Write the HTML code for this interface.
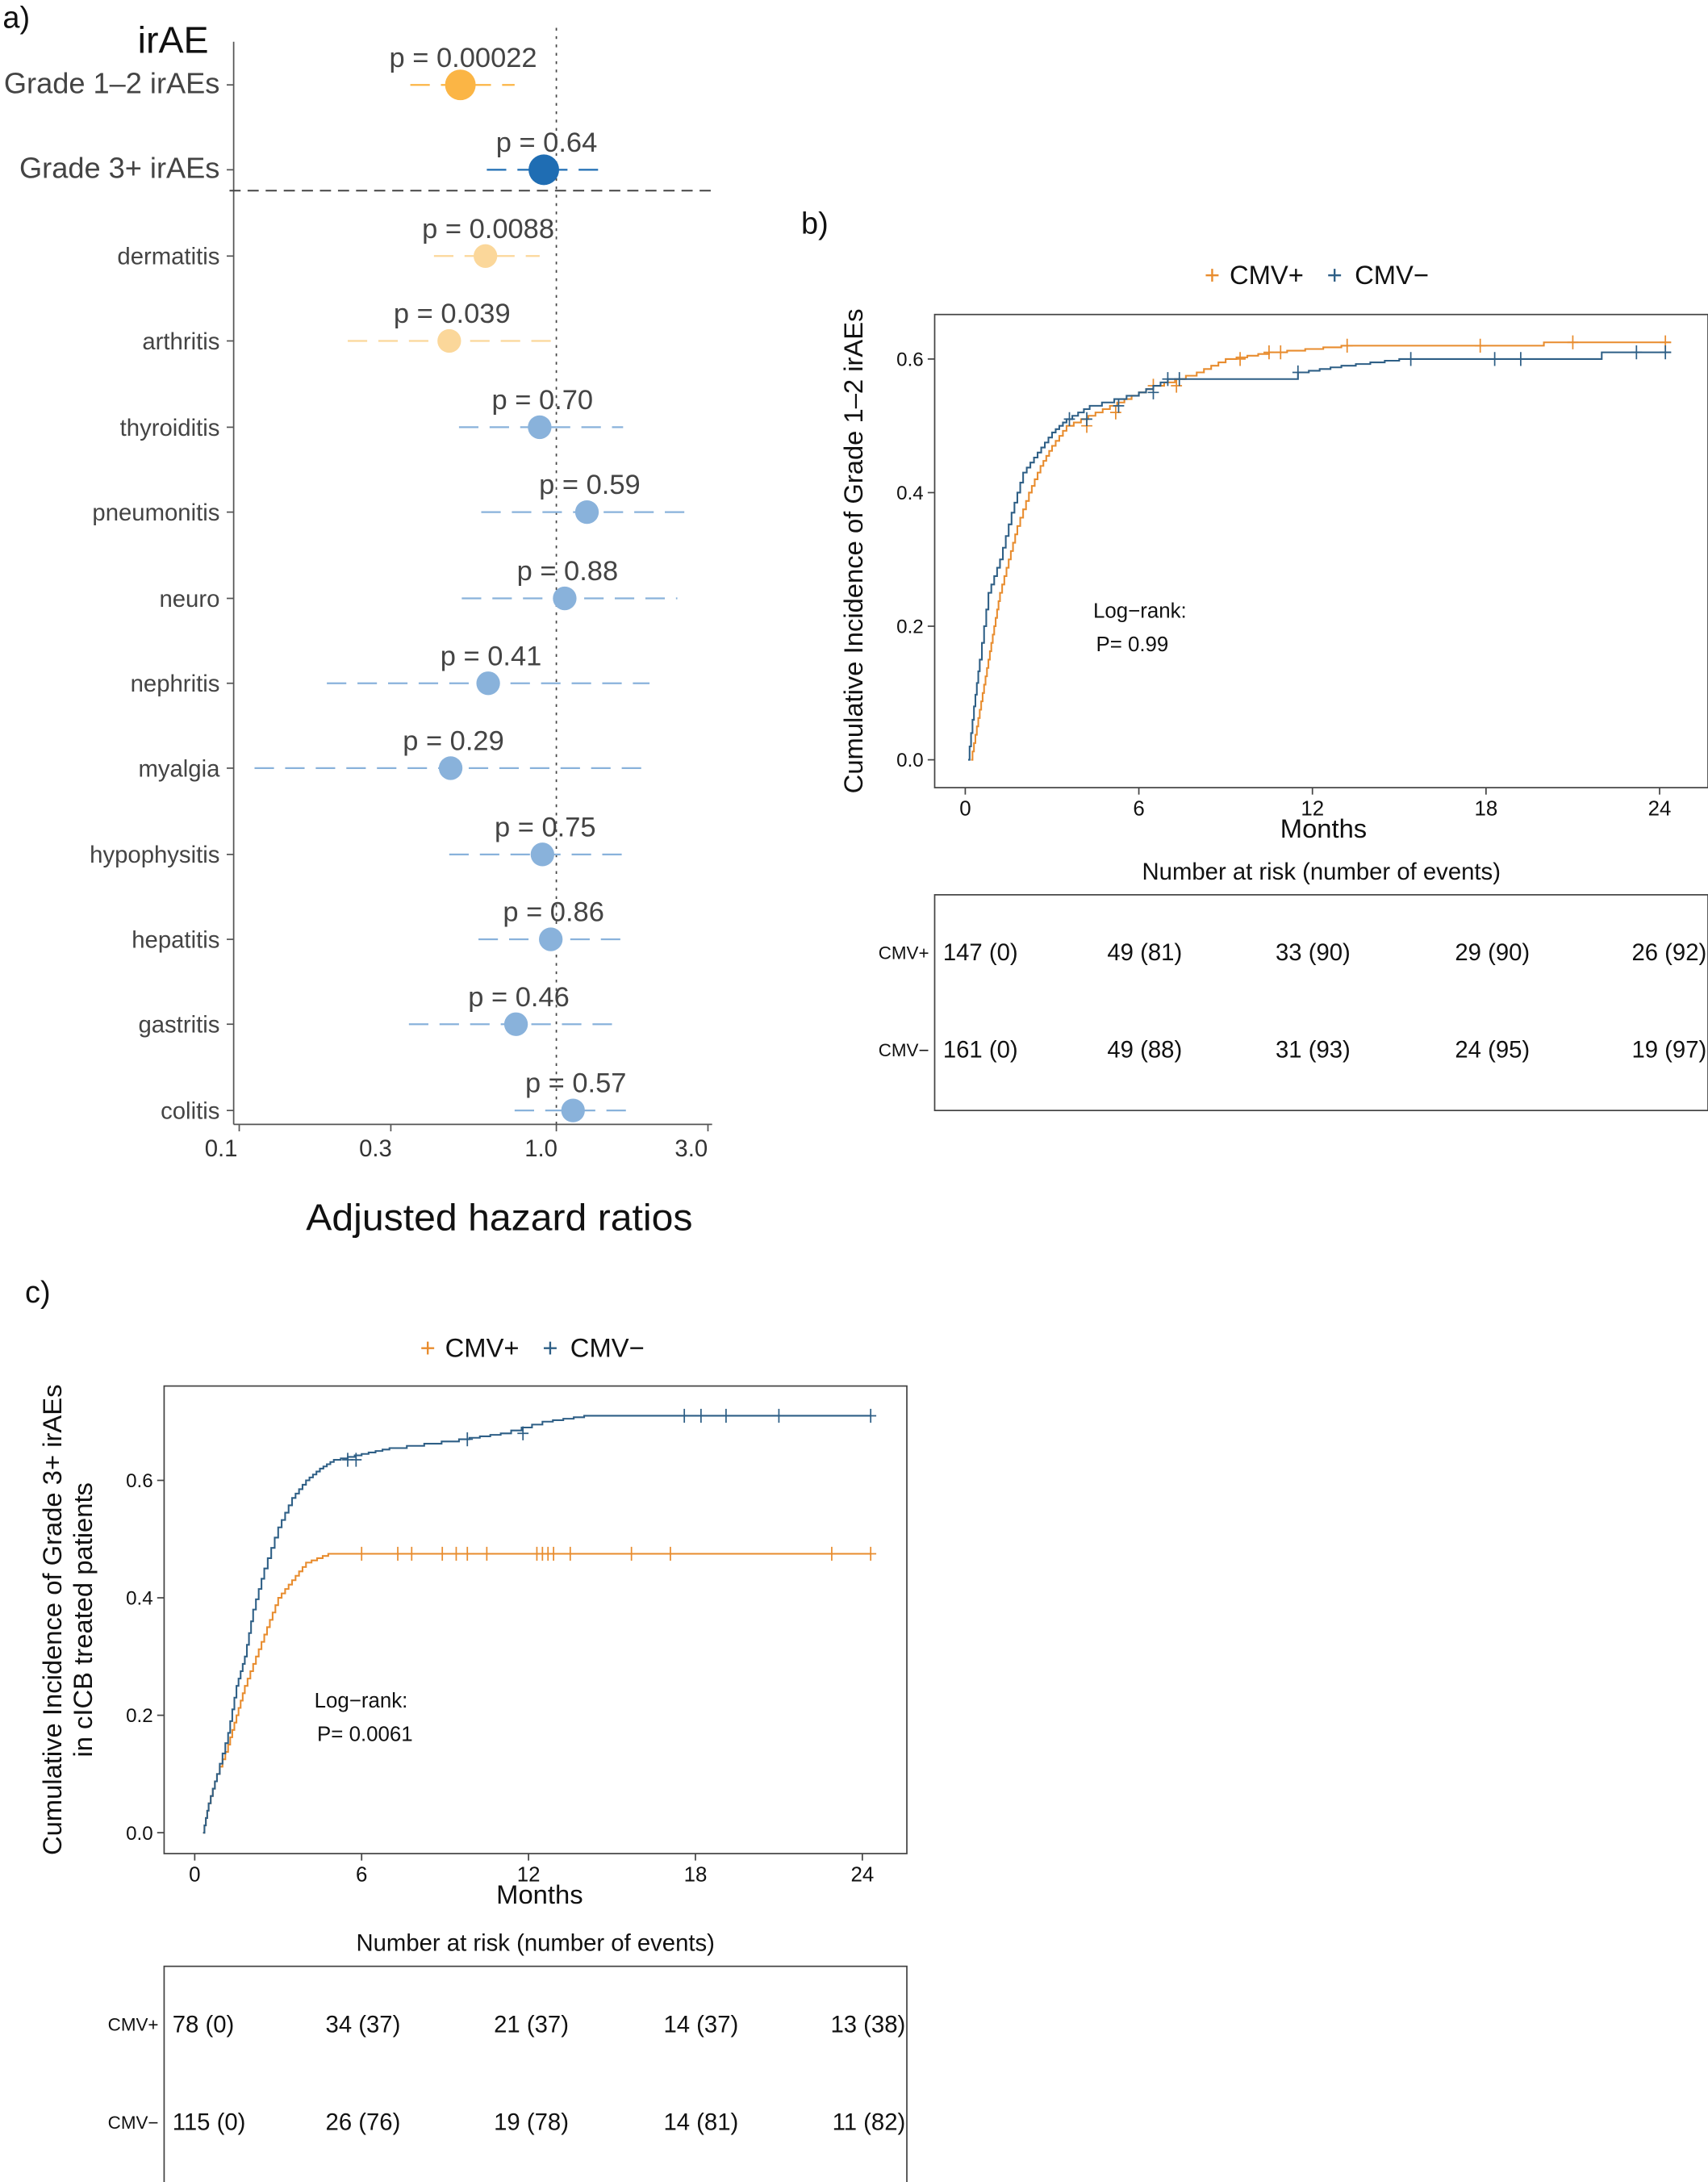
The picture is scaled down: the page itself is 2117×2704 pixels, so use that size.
<!DOCTYPE html>
<html><head><meta charset="utf-8"><style>
html,body{margin:0;padding:0;background:#fff}
svg{display:block}
text{font-family:"Liberation Sans",sans-serif}
</style></head><body>
<svg id="s" width="2117" height="2704" viewBox="0 0 1228 1568" preserveAspectRatio="none" xmlns="http://www.w3.org/2000/svg">
<rect width="1228" height="1568" fill="#fff"/>
<text x="2" y="20" font-size="22" fill="#111">a)</text>
<text x="150" y="38" font-size="27" fill="#111" text-anchor="end">irAE</text>
<line x1="168" y1="30" x2="168" y2="808" stroke="#555" stroke-width="1"/>
<line x1="400" y1="20" x2="400" y2="808" stroke="#444" stroke-width="1" stroke-dasharray="2,4"/>
<line x1="165" y1="137" x2="512" y2="137" stroke="#444" stroke-width="1.2" stroke-dasharray="8,5"/>
<line x1="168" y1="808" x2="512" y2="808" stroke="#555" stroke-width="1"/>
<g id="fp"></g>
<text x="159" y="831" font-size="17" fill="#333" text-anchor="middle">0.1</text>
<text x="270" y="831" font-size="17" fill="#333" text-anchor="middle">0.3</text>
<text x="389" y="831" font-size="17" fill="#333" text-anchor="middle">1.0</text>
<text x="497" y="831" font-size="17" fill="#333" text-anchor="middle">3.0</text>
<text x="359" y="884" font-size="27" fill="#111" text-anchor="middle" textLength="278" lengthAdjust="spacingAndGlyphs">Adjusted hazard ratios</text>
<text x="576" y="168" font-size="22" fill="#111">b)</text>
<g id="b"></g>
<text x="18" y="936" font-size="22" fill="#111">c)</text>
<g id="c"></g>
</svg>
<script>
const NS="http://www.w3.org/2000/svg";
function el(p,t,a,txt){const e=document.createElementNS(NS,t);for(const k in a)e.setAttribute(k,a[k]);if(txt!==undefined)e.textContent=txt;p.appendChild(e);return e;}
const fp=document.getElementById('fp');
const rows=[
["Grade 1\u20132 irAEs",61,331,295,370,"p = 0.00022","#fbb545",11,20],
["Grade 3+ irAEs",122,391,350,430,"p = 0.64","#1f6db3",11,20],
["dermatitis",184,349,312,388,"p = 0.0088","#fbd79a",8.5,16],
["arthritis",245,323,250,398,"p = 0.039","#fbd79a",8.5,16],
["thyroiditis",307,388,330,448,"p = 0.70","#89b2db",8.5,16],
["pneumonitis",368,422,346,500,"p = 0.59","#89b2db",8.5,16],
["neuro",430,406,332,487,"p = 0.88","#89b2db",8.5,16],
["nephritis",491,351,235,467,"p = 0.41","#89b2db",8.5,16],
["myalgia",552,324,183,465,"p = 0.29","#89b2db",8.5,16],
["hypophysitis",614,390,323,455,"p = 0.75","#89b2db",8.5,16],
["hepatitis",675,396,344,447,"p = 0.86","#89b2db",8.5,16],
["gastritis",736,371,294,447,"p = 0.46","#89b2db",8.5,16],
["colitis",798,412,370,454,"p = 0.57","#89b2db",8.5,16]];
rows.forEach(r=>{const[l,y,x,lo,hi,p,c,rad,fs]=r;
el(fp,'line',{x1:163,y1:y,x2:168,y2:y,stroke:'#555'});
const t=el(fp,'text',{x:158,y:y+6,'font-size':fs+1,fill:'#444','text-anchor':'end'},l);
if(fs==20){t.setAttribute('font-size',21);}
el(fp,'line',{x1:lo,y1:y,x2:hi,y2:y,stroke:c,'stroke-width':1.3,'stroke-dasharray':'14,8'});
el(fp,'circle',{cx:x,cy:y,r:rad,fill:c});
el(fp,'text',{x:x+2,y:y-13,'font-size':20,fill:'#444','text-anchor':'middle'},p);});
[172,281,400,509].forEach(x=>el(fp,'line',{x1:x,y1:808,x2:x,y2:813,stroke:'#555'}));

function km(g,o){
const G=document.getElementById(g);
const X=t=>o.x0+t*o.px, Y=v=>o.y0-v*o.py;
el(G,'text',{x:o.legx,y:o.legy,'font-size':19,fill:'#e88c2e'},'+');
el(G,'text',{x:o.legx+18,y:o.legy,'font-size':19,fill:'#111'},'CMV+');
el(G,'text',{x:o.legx+88,y:o.legy,'font-size':19,fill:'#2e5f86'},'+');
el(G,'text',{x:o.legx+108,y:o.legy,'font-size':19,fill:'#111'},'CMV\u2212');
el(G,'rect',{x:o.bx,y:o.by,width:o.bw,height:o.bh,fill:'none',stroke:'#444','stroke-width':1});
[0,0.2,0.4,0.6].forEach(v=>{el(G,'line',{x1:o.bx-5,y1:Y(v),x2:o.bx,y2:Y(v),stroke:'#444'});
el(G,'text',{x:o.bx-8,y:Y(v)+5,'font-size':14,fill:'#111','text-anchor':'end'},v.toFixed(1));});
[0,6,12,18,24].forEach(t=>{el(G,'line',{x1:X(t),y1:o.by+o.bh,x2:X(t),y2:o.by+o.bh+5,stroke:'#444'});
el(G,'text',{x:X(t),y:o.by+o.bh+20,'font-size':15,fill:'#111','text-anchor':'middle'},t);});
el(G,'text',{x:X(12)+8,y:o.by+o.bh+36,'font-size':19,fill:'#111','text-anchor':'middle'},'Months');
const yl=o.ylab; const cx=o.ylx, cy=o.by+o.bh/2;
const tt=el(G,'text',{x:cx,y:cy,'font-size':19,fill:'#111','text-anchor':'middle',transform:`rotate(-90 ${cx} ${cy})`});
yl.forEach((s,i)=>el(tt,'tspan',{x:cx,dy:i?22:0},s));
el(G,'text',{x:o.lrx,y:o.lry,'font-size':15,fill:'#111'},'Log\u2212rank:');
el(G,'text',{x:o.lrx+2,y:o.lry+24,'font-size':15,fill:'#111'},o.pv);
[[o.or,'#e88c2e',o.oc],[o.bl,'#2e5f86',o.bc]].forEach(([pts,col,cens])=>{
let d=`M${X(pts[0][0])},${Y(pts[0][1])}`;
for(let i=1;i<pts.length;i++){const [t0,v0]=pts[i-1],[t1,v1]=pts[i];
 const n=(t1-t0)<3?4:1;
 for(let k=1;k<=n;k++){d+=`H${X(t0+(t1-t0)*k/n)}V${Y(v0+(v1-v0)*k/n)}`;}}
el(G,'path',{d,fill:'none',stroke:col,'stroke-width':1.2});
cens.forEach(t=>{let v=pts[0][1];pts.forEach(p=>{if(p[0]<=t)v=p[1];});
el(G,'path',{d:`M${X(t)-4},${Y(v)}h8M${X(t)},${Y(v)-5}v10`,stroke:col,'stroke-width':1});});});
el(G,'text',{x:o.bx+o.bw/2,y:o.ty,'font-size':17,fill:'#111','text-anchor':'middle'},'Number at risk (number of events)');
const top=o.ty+11;
el(G,'rect',{x:o.bx,y:top,width:o.bw,height:o.th,fill:'none',stroke:'#444','stroke-width':1});
[['CMV+',o.r1],['CMV\u2212',o.r2]].forEach(([lab,vals],i)=>{const yy=top+o.th*(i===0?0.265:0.716);
el(G,'text',{x:o.bx-4,y:yy+5,'font-size':13,fill:'#111','text-anchor':'end'},lab);
vals.forEach((s,j)=>{const xx=[o.bx+6,o.c1,o.c2,o.c3,o.bx+o.bw-1][j];
el(G,'text',{x:xx,y:yy+6,'font-size':17,fill:'#111','text-anchor':j==0?'start':(j==4?'end':'middle')},s);});});
}
km('b',{x0:694,px:20.8,y0:546,py:480,bx:672,by:226,bw:556,bh:340,legx:866,legy:204,ylab:['Cumulative Incidence of Grade 1\u20132 irAEs'],ylx:620,
lrx:786,lry:444,pv:'P= 0.99',ty:632,th:155,c1:823,c2:944,c3:1073,
r1:['147 (0)','49 (81)','33 (90)','29 (90)','26 (92)'],r2:['161 (0)','49 (88)','31 (93)','24 (95)','19 (97)'],
or:[[0.2,0],[0.4,0.05],[0.6,0.1],[0.8,0.15],[1,0.2],[1.2,0.25],[1.5,0.3],[1.8,0.35],[2.2,0.4],[2.6,0.44],[3,0.47],[3.5,0.5],[4.5,0.52],[5.5,0.54],[6.5,0.56],[8,0.58],[9,0.6],[10.5,0.61],[13,0.62],[20,0.625],[24.4,0.625]],
oc:[4.2,5.2,6.5,7.3,9.5,10.5,10.9,13.2,17.8,21,24.2],
bl:[[0.1,0],[0.3,0.08],[0.5,0.15],[0.8,0.25],[1.2,0.3],[1.6,0.37],[2,0.43],[2.5,0.46],[3,0.49],[3.5,0.51],[4.3,0.53],[6,0.55],[7,0.57],[11.5,0.58],[13,0.59],[15,0.6],[22,0.61],[24.4,0.61]],
bc:[3.6,4.2,5.3,6.5,7,7.4,11.5,15.4,18.3,19.2,23.2,24.2]});
km('c',{x0:140,px:20,y0:1317,py:422,bx:118,by:996,bw:534,bh:336,legx:302,legy:975,ylab:['Cumulative Incidence of Grade 3+ irAEs','in cICB treated patients'],ylx:44,
lrx:226,lry:1227,pv:'P=  0.0061',ty:1402,th:156,c1:261,c2:382,c3:504,
r1:['78 (0)','34 (37)','21 (37)','14 (37)','13 (38)'],r2:['115 (0)','26 (76)','19 (78)','14 (81)','11 (82)'],
or:[[0.3,0],[0.5,0.05],[0.8,0.1],[1.2,0.15],[1.5,0.2],[1.8,0.25],[2.2,0.3],[2.6,0.35],[3,0.4],[3.5,0.43],[4,0.46],[4.8,0.475],[24.3,0.475]],
oc:[6,7.3,7.8,8.9,9.4,9.8,10.5,12.3,12.5,12.7,12.9,13.5,15.7,17.1,22.9,24.3],
bl:[[0.3,0],[0.5,0.05],[0.8,0.1],[1.2,0.17],[1.5,0.25],[1.8,0.3],[2.1,0.38],[2.5,0.45],[3,0.52],[3.5,0.57],[4,0.6],[4.5,0.62],[5,0.635],[6,0.645],[7,0.655],[9.5,0.67],[11,0.68],[12.5,0.7],[14,0.71],[24.3,0.71]],
bc:[5.5,5.8,9.8,11.8,17.6,18.2,19.1,21,24.3]});
</script>
</body></html>
